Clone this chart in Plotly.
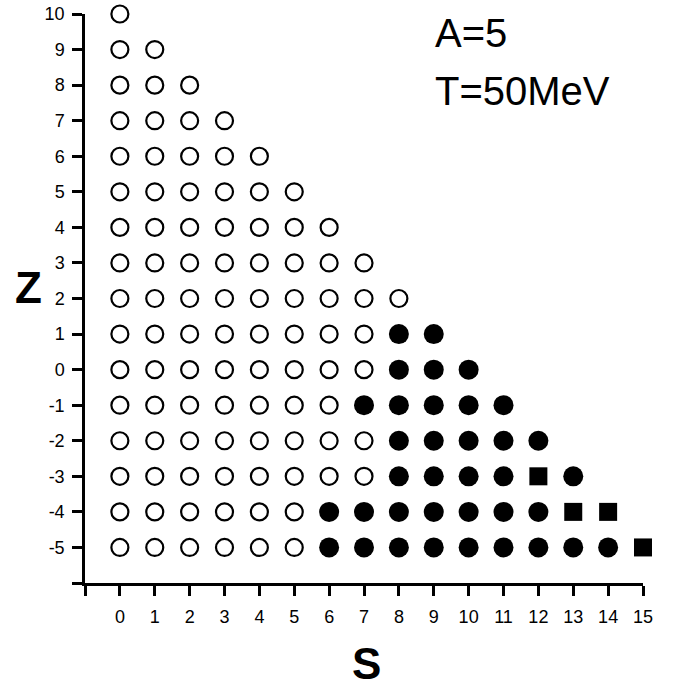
import plotly.graph_objects as go

# Z values of each row (top to bottom) and per-row marker codes, index = S
# 'o' open circle, 'f' filled circle, 's' filled square
z_rows = [10, 9, 8, 7, 6, 5, 4, 3, 2, 1, 0, -1, -2, -3, -4, -5]
row_codes = [
    "o",
    "oo",
    "ooo",
    "oooo",
    "ooooo",
    "oooooo",
    "ooooooo",
    "oooooooo",
    "ooooooooo",
    "ooooooooff",
    "oooooooofff",
    "ooooooofffff",
    "oooooooofffff",
    "ooooooooffffsf",
    "oooooofffffffss",
    "oooooofffffffffs",
]
x_ticks = list(range(-1, 16))
x_ticktext = [""] + [str(v) for v in range(0, 16)]
y_ticks = list(range(-6, 11))
y_ticktext = [""] + [str(v) for v in range(-5, 11)]

pts = {"o": ([], []), "f": ([], []), "s": ([], [])}
for z, code in zip(z_rows, row_codes):
    for s, c in enumerate(code):
        pts[c][0].append(s)
        pts[c][1].append(z)

FONT = "Liberation Sans, Arial, Helvetica, sans-serif"

fig = go.Figure()
fig.add_trace(go.Scatter(
    x=pts["o"][0], y=pts["o"][1], mode="markers", cliponaxis=False,
    marker=dict(symbol="circle-open", size=17, color="black", line=dict(width=2.2, color="black")),
    showlegend=False, hoverinfo="skip"))
fig.add_trace(go.Scatter(
    x=pts["f"][0], y=pts["f"][1], mode="markers", cliponaxis=False,
    marker=dict(symbol="circle", size=20, color="black", line=dict(width=0)),
    showlegend=False, hoverinfo="skip"))
fig.add_trace(go.Scatter(
    x=pts["s"][0], y=pts["s"][1], mode="markers", cliponaxis=False,
    marker=dict(symbol="square", size=18, color="black", line=dict(width=0)),
    showlegend=False, hoverinfo="skip"))

fig.update_layout(
    width=681, height=687,
    margin=dict(l=85, r=38, t=14, b=104, autoexpand=False),
    paper_bgcolor="white", plot_bgcolor="white",
    font=dict(family=FONT, color="black"),
    xaxis=dict(range=[-1, 15], tickvals=x_ticks, ticktext=x_ticktext,
               showgrid=False, zeroline=False, showline=True, linecolor="black", linewidth=2.5,
               ticks="outside", ticklen=10, tickwidth=2.5, tickcolor="black",
               tickfont=dict(size=18, family=FONT), ticklabelstandoff=6),
    yaxis=dict(range=[-6, 10], tickvals=y_ticks, ticktext=y_ticktext,
               showgrid=False, zeroline=False, showline=True, linecolor="black", linewidth=2.5,
               ticks="outside", ticklen=10, tickwidth=2.5, tickcolor="black",
               tickfont=dict(size=18, family=FONT), ticklabelstandoff=4),
    annotations=[
        dict(text="A=5", xref="paper", yref="paper", x=0.6237, y=0.9665,
             xanchor="left", yanchor="middle", showarrow=False, font=dict(size=40, family=FONT)),
        dict(text="T=50MeV", xref="paper", yref="paper", x=0.6237, y=0.864,
             xanchor="left", yanchor="middle", showarrow=False, font=dict(size=40, family=FONT)),
        dict(text="<b>Z</b>", xref="paper", yref="paper", x=-0.102, y=0.52,
             xanchor="center", yanchor="middle", showarrow=False, font=dict(size=44, family=FONT)),
        dict(text="<b>S</b>", xref="paper", yref="paper", x=0.505, y=-0.141,
             xanchor="center", yanchor="middle", showarrow=False, font=dict(size=44, family=FONT)),
    ],
)

fig.write_html(
    "out.html",
    config={"displayModeBar": False},
    post_script="document.documentElement.style.margin='0';document.body.style.margin='0';"
                "document.body.style.padding='0';document.body.style.overflow='hidden';",
)
